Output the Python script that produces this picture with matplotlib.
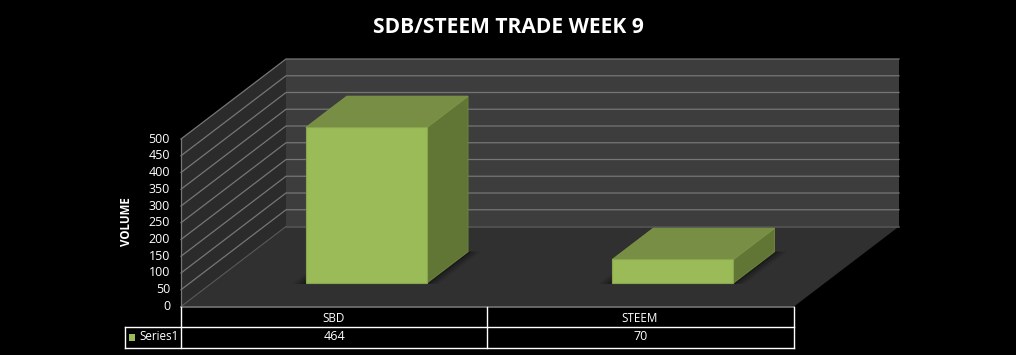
import matplotlib
matplotlib.use("Agg")
import matplotlib.pyplot as plt
from matplotlib.patches import Polygon

categories = ["SBD", "STEEM"]
values = [464, 70]
y_ticks = [0, 50, 100, 150, 200, 250, 300, 350, 400, 450, 500]
series_name = "Series1"
title = "SDB/STEEM TRADE WEEK 9"
y_label = "VOLUME"

plt.rcParams["font.family"] = ["Open Sans", "DejaVu Sans"]

W, H = 1016, 355
X0, Y0 = 181, 306.5      # pixel of category 0, value 0
CAT_PX = 306.5           # pixels per category
VAL_PX = 167.5 / 500     # pixels per unit of value
DEPTH_X = 105 / CAT_PX   # full depth of the box in data units
DEPTH_Y = 80 / VAL_PX

fig = plt.figure(figsize=(W / 100, H / 100), dpi=100, facecolor="black")
ax = fig.add_axes([0, 0, 1, 1])
ax.set_xlim(-X0 / CAT_PX, (W - X0) / CAT_PX)
ax.set_ylim(-(H - Y0) / VAL_PX, Y0 / VAL_PX)
ax.axis("off")


def pt(cat, val, depth=0.0):
    return (cat + depth * DEPTH_X, val + depth * DEPTH_Y)


def px(x, y):
    # pixel position to data units, for the table and the labels
    return ((x - X0) / CAT_PX, (Y0 - y) / VAL_PX)


def poly(points, color, z, edge="none", alpha=None, lw=0.8):
    ax.add_patch(Polygon(points, closed=True, facecolor=color, edgecolor=edge,
                         linewidth=lw, alpha=alpha, zorder=z))


n = len(categories)
top = y_ticks[-1]

# walls and floor
poly([pt(0, 0, 1), pt(n, 0, 1), pt(n, top, 1), pt(0, top, 1)], "#3d3d3d", 1)
poly([pt(0, 0), pt(0, 0, 1), pt(0, top, 1), pt(0, top)], "#2b2b2b", 1)
poly([pt(0, 0), pt(n, 0), pt(n, 0, 1), pt(0, 0, 1)], "#303030", 1)

# gridlines
for t in y_ticks:
    xs, ys = zip(pt(0, t), pt(0, t, 1), pt(n, t, 1))
    if t == 0:
        ax.plot(xs[:2], ys[:2], color="#5a5a5a", lw=0.8, zorder=2)
        ax.plot(xs[1:], ys[1:], color="#555555", lw=1.2, zorder=2)
    else:
        ax.plot(xs, ys, color="#767676", lw=0.9, zorder=2)
ax.plot(*zip(pt(0, 0), pt(0, top)), color="#767676", lw=0.9, zorder=2)
ax.plot(*zip(pt(0, 0), pt(n, 0)), color="#767676", lw=1.2, zorder=2)

# bars
bar_w = 0.395
d0, d1 = 0.295, 0.685
for i, v in enumerate(values):
    x0 = i + 0.504 - bar_w / 2
    x1 = x0 + bar_w

    # soft shadow on the floor
    for grow, a in [(0.04, 0.1), (0.028, 0.16), (0.014, 0.24), (0.0, 0.35)]:
        poly([pt(x0 - grow, 0, d0 - 0.012), pt(x1 + grow, 0, d0 - 0.012),
              pt(x1 + grow, 0, d1), pt(x0 - grow, 0, d1)],
             "black", 3, alpha=a)

    poly([pt(x1, 0, d0), pt(x1, 0, d1), pt(x1, v, d1), pt(x1, v, d0)],
         "#617535", 4, edge="#6c823a")
    poly([pt(x0, v, d0), pt(x1, v, d0), pt(x1, v, d1), pt(x0, v, d1)],
         "#778e44", 4, edge="#7b9446")
    poly([pt(x0, 0, d0), pt(x1, 0, d0), pt(x1, v, d0), pt(x0, v, d0)],
         "#9bbb59", 5, edge="#88a64c")

# value axis labels
for t in y_ticks:
    x, _ = px(170, 0)
    ax.text(x, t, str(t), color="white", fontsize=9, ha="right", va="center", zorder=6)

ax.text(*px(126, 222), y_label, color="white", fontsize=8.3, fontweight="bold",
        rotation=90, ha="center", va="center")
ax.text(*px(508, 27), title, color="white", fontsize=15.1, fontweight="bold",
        ha="center", va="center")

# data table
x_edges = [X0 + i * CAT_PX for i in range(n + 1)]
row_top, row_mid, row_bot = 306.5, 326.5, 347.5
leg_left = 124.5


def tline(x_a, y_a, x_b, y_b):
    ax.plot(*zip(px(x_a, y_a), px(x_b, y_b)), color="white", lw=1.0, zorder=6,
            solid_capstyle="projecting")


for xe in x_edges:
    tline(xe, row_top, xe, row_bot)
tline(leg_left, row_mid, x_edges[-1], row_mid)
tline(leg_left, row_bot, x_edges[-1], row_bot)
tline(leg_left, row_mid, leg_left, row_bot)

for i, (cat, v) in enumerate(zip(categories, values)):
    xc = (x_edges[i] + x_edges[i + 1]) / 2 - 1
    ax.text(*px(xc, 318), cat, color="white", fontsize=8.4, ha="center", va="center", zorder=7)
    ax.text(*px(xc + 1, 337), str(v), color="white", fontsize=9, ha="center", va="center", zorder=7)

poly([px(129, 334), px(135, 334), px(135, 341), px(129, 341)], "#9bbb59", 7)
ax.text(*px(139, 337), series_name, color="white", fontsize=8.4, ha="left", va="center", zorder=7)

fig.savefig("out.png", dpi=100, facecolor="black")
